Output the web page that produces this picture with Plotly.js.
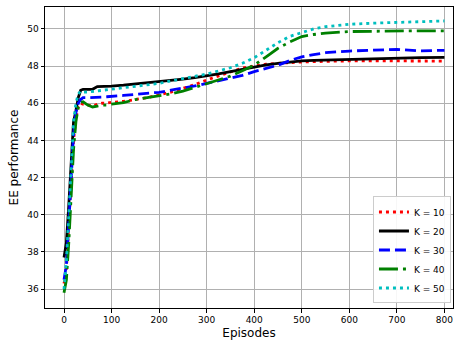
<!DOCTYPE html>
<html>
<head>
<meta charset="utf-8">
<script src="https://cdn.plot.ly/plotly-3.0.1.min.js"></script>
<style>html,body{margin:0;padding:0;background:#fff;}#chart{width:458px;height:343px;}</style>
</head>
<body>
<div id="chart"></div>
<script>
const episodes = [0,5,10,15,20,25,30,35,40,50,60,70,80,90,100,125,150,175,200,225,250,275,300,325,350,375,400,425,450,475,500,525,550,600,650,700,750,800];
const k10 = [36.3,37.0,39.5,42.0,44.0,45.2,45.8,46.0,45.95,45.9,45.85,45.95,46.0,46.0,46.05,46.1,46.2,46.3,46.45,46.6,46.8,47.0,47.25,47.45,47.68,47.9,48.0,48.1,48.15,48.2,48.22,48.24,48.26,48.28,48.28,48.28,48.27,48.27];
const k20 = [37.7,38.5,40.5,43.0,45.0,45.6,46.3,46.7,46.75,46.75,46.75,46.9,46.9,46.9,46.92,46.97,47.03,47.1,47.16,47.22,47.3,47.38,47.46,47.58,47.7,47.82,47.97,48.07,48.15,48.22,48.28,48.31,48.33,48.37,48.41,48.44,48.46,48.47];
const k30 = [36.5,37.3,39.5,42.0,44.3,45.5,46.0,46.2,46.3,46.3,46.3,46.32,46.33,46.35,46.36,46.42,46.48,46.53,46.59,46.7,46.8,46.93,47.07,47.2,47.34,47.5,47.7,47.88,48.05,48.3,48.5,48.62,48.72,48.81,48.86,48.9,48.82,48.85];
const k40 = [35.8,36.5,38.5,41.0,43.5,45.0,45.8,46.05,46.08,45.9,45.8,45.85,45.9,45.9,45.95,46.03,46.2,46.3,46.38,46.5,46.65,46.85,47.05,47.25,47.46,47.75,48.05,48.5,48.96,49.3,49.59,49.7,49.77,49.86,49.88,49.89,49.9,49.9];
const k50 = [36.0,37.5,40.0,42.8,45.0,46.0,46.5,46.65,46.6,46.6,46.63,46.68,46.7,46.72,46.75,46.83,46.9,46.98,47.07,47.2,47.34,47.45,47.57,47.72,47.91,48.15,48.45,48.85,49.26,49.6,49.82,50.0,50.12,50.25,50.31,50.36,50.4,50.43];
const names = ["K = 10","K = 20","K = 30","K = 40","K = 50"];
const xTicks = [0,100,200,300,400,500,600,700,800];
const yTicks = [36,38,40,42,44,46,48,50];

const series = [k10,k20,k30,k40,k50];
const colors = ["#ff0000","#000000","#0000ff","#008000","#00bfbf"];
const dashes = ["3px,4px","solid","11px,5px","19px,5px,3px,5px","3px,4px"];
const traces = series.map((y,i)=>({
  x: episodes, y: y, name: names[i], type: "scatter", mode: "lines",
  line: {color: colors[i], width: 2.8, dash: dashes[i]}
}));

const font = {family: "DejaVu Sans", size: 9, color: "#000"};
const layout = {
  width: 458, height: 343,
  margin: {l: 45, r: 5, t: 7, b: 35},
  paper_bgcolor: "#fff", plot_bgcolor: "#fff",
  font: font,
  showlegend: true,
  legend: {x: 0.995, y: 0.015, xanchor: "right", yanchor: "bottom",
    bgcolor: "rgba(255,255,255,0.9)", bordercolor: "#cccccc", borderwidth: 1,
    font: {family: "DejaVu Sans", size: 9}, tracegroupgap: 0},
  xaxis: {
    range: [-40, 818], tickvals: xTicks, ticktext: xTicks.map(String),
    showgrid: true, gridcolor: "#b0b0b0", gridwidth: 1,
    showline: true, linecolor: "#000", linewidth: 1, mirror: true,
    ticks: "outside", ticklen: 3.5, tickcolor: "#000", zeroline: false,
    title: {text: "Episodes", font: {family: "DejaVu Sans", size: 12}, standoff: 4}
  },
  yaxis: {
    range: [34.98, 51.18], tickvals: yTicks, ticktext: yTicks.map(String),
    showgrid: true, gridcolor: "#b0b0b0", gridwidth: 1,
    showline: true, linecolor: "#000", linewidth: 1, mirror: true,
    ticks: "outside", ticklen: 3.5, tickcolor: "#000", zeroline: false,
    title: {text: "EE performance", font: {family: "DejaVu Sans", size: 12}, standoff: 6}
  }
};
Plotly.newPlot("chart", traces, layout, {staticPlot: true, displayModeBar: false});
</script>
</body>
</html>
